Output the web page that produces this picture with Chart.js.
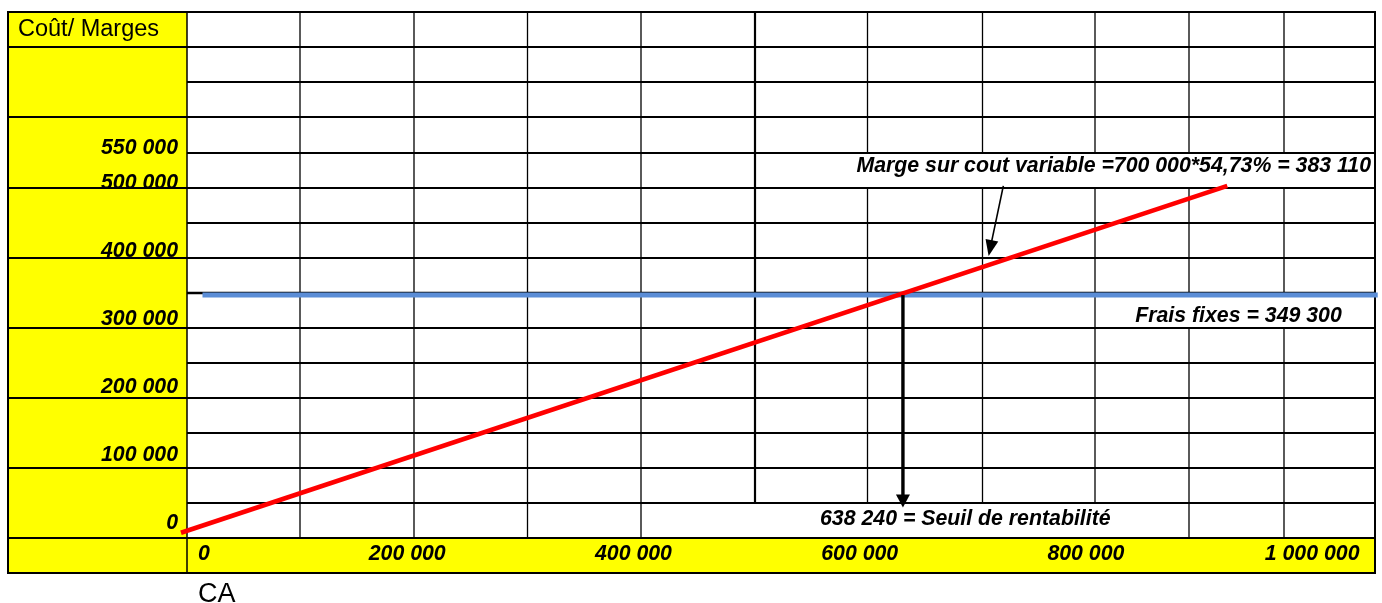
<!DOCTYPE html>
<html><head><meta charset="utf-8">
<script src="https://cdn.jsdelivr.net/npm/chart.js@4.4.1/dist/chart.umd.min.js"></script>
<style>html,body{margin:0;padding:0;background:#fff;overflow:hidden}canvas{display:block}</style>
</head><body>
<canvas id="c" width="1382" height="603" style="width:1382px;height:603px"></canvas>
<script>
// ---------- data ----------
const caValues        = [0, 925000];          // CA of the two ends of the red line
const mcvValues       = [0, 510000];          // Marge sur coût variable at those CA
const fixedCostCA     = [19000, 1058000];     // blue line ends
const fixedCostValues = [349300, 349300];     // Frais fixes
const breakEvenCA     = 638240;               // Seuil de rentabilité
const breakEvenArrowY = [349300, 37200];      // vertical arrow: from / to
const mcvArrowCA      = [727000, 714000];     // thin arrow: from / to (x)
const mcvArrowY       = [510000, 407000];     // thin arrow: from / to (y)
const xTickValues = [0, 200000, 400000, 600000, 800000, 1000000];
const xTickLabels = ['0', '200 000', '400 000', '600 000', '800 000', '1 000 000'];
const yTickValues = [0, 100000, 200000, 300000, 400000, 500000, 550000];
const yTickLabels = ['0', '100 000', '200 000', '300 000', '400 000', '500 000', '550 000'];
const yAxisTitle = 'Coût/ Marges';
const xAxisTitle = 'CA';
const mcvLabel = 'Marge sur cout variable =700 000*54,73% = 383 110';
const fixedLabel = 'Frais fixes = 349 300';
const breakEvenLabel = '638 240 = Seuil de rentabilité';

// ---------- sheet layout ----------
const FAMILY = "'Liberation Sans', Arial, sans-serif";
const COLS = [8, 187, 300, 414, 527.5, 641, 755, 867.5, 982.5, 1095, 1189, 1284, 1375];
const ROWS = [12, 47, 82, 117, 153, 188, 223, 258, 293, 328, 363, 398, 433, 468, 503, 538, 573];
const SKIP_V = {4: [867.5, 982.5, 1095, 1189, 1284], 8: [1189, 1284], 14: [755, 867.5, 982.5, 1095]};

function arrow(ctx, x1, y1, x2, y2, lw, hl, hw) {
  const a = Math.atan2(y2 - y1, x2 - x1);
  const bx = x2 - Math.cos(a) * hl, by = y2 - Math.sin(a) * hl;
  ctx.beginPath();
  ctx.lineWidth = lw;
  ctx.moveTo(x1, y1); ctx.lineTo(bx + Math.cos(a) * 1, by + Math.sin(a) * 1);
  ctx.stroke();
  ctx.beginPath();
  ctx.moveTo(x2, y2);
  ctx.lineTo(bx + Math.sin(a) * hw / 2, by - Math.cos(a) * hw / 2);
  ctx.lineTo(bx - Math.sin(a) * hw / 2, by + Math.cos(a) * hw / 2);
  ctx.closePath();
  ctx.fill();
}

const sheetPlugin = {
  id: 'sheet',
  beforeDraw(chart) {
    const ctx = chart.ctx;
    ctx.save();
    ctx.fillStyle = '#fff';
    ctx.fillRect(0, 0, chart.width, chart.height);
    ctx.fillStyle = '#FFFF00';
    ctx.fillRect(COLS[0], ROWS[0], COLS[1] - COLS[0], ROWS[15] - ROWS[0]);
    ctx.fillRect(COLS[0], ROWS[15], COLS[12] - COLS[0], ROWS[16] - ROWS[15]);
    ctx.strokeStyle = '#000';
    ctx.lineCap = 'butt';
    // horizontal lines
    ROWS.forEach((y, i) => {
      const yellowToo = (i === 0 || i % 2 === 1 || i === 16);
      ctx.beginPath();
      ctx.lineWidth = (i === 8) ? 2.6 : 2;
      ctx.moveTo(yellowToo ? COLS[0] - 1 : COLS[1], y);
      ctx.lineTo(COLS[12] + 1, y);
      ctx.stroke();
    });
    // inner vertical lines
    for (let j = 2; j <= 11; j++) {
      const x = COLS[j];
      ctx.lineWidth = (x === 755) ? 2.2 : 1.3;
      for (let r = 0; r < 15; r++) {
        if (SKIP_V[r] && SKIP_V[r].includes(x)) continue;
        ctx.beginPath();
        ctx.moveTo(x, ROWS[r]);
        ctx.lineTo(x, ROWS[r + 1]);
        ctx.stroke();
      }
    }
    // borders and yellow column edge
    [[COLS[0], 2], [COLS[1], 1.5], [COLS[12], 2]].forEach(([x, w]) => {
      ctx.beginPath();
      ctx.lineWidth = w;
      ctx.moveTo(x, ROWS[0] - 1);
      ctx.lineTo(x, ROWS[16] + 1);
      ctx.stroke();
    });
    ctx.restore();
  },
  afterDatasetsDraw(chart) {
    const ctx = chart.ctx, xs = chart.scales.x, ys = chart.scales.y;
    ctx.save();
    ctx.strokeStyle = '#000';
    ctx.fillStyle = '#000';
    const bx = xs.getPixelForValue(breakEvenCA);
    arrow(ctx, bx, ys.getPixelForValue(breakEvenArrowY[0]), bx, ys.getPixelForValue(breakEvenArrowY[1]), 3.4, 13, 14);
    arrow(ctx, xs.getPixelForValue(mcvArrowCA[0]), ys.getPixelForValue(mcvArrowY[0]),
               xs.getPixelForValue(mcvArrowCA[1]), ys.getPixelForValue(mcvArrowY[1]), 1.6, 16, 13);
    ctx.restore();
  },
  afterDraw(chart) {
    const ctx = chart.ctx, xs = chart.scales.x;
    ctx.save();
    ctx.fillStyle = '#000';
    ctx.textBaseline = 'alphabetic';
    // x tick labels in the yellow bottom row
    ctx.font = 'italic bold 21.3px ' + FAMILY;
    xTickValues.forEach((v, i) => {
      const px = xs.getPixelForValue(v);
      const w = ctx.measureText(xTickLabels[i]).width;
      if (px - w / 2 < COLS[1] + 4) { ctx.textAlign = 'left'; ctx.fillText(xTickLabels[i], COLS[1] + 11, 559.5); }
      else { ctx.textAlign = 'center'; ctx.fillText(xTickLabels[i], px, 559.5); }
    });
    // annotations
    ctx.textAlign = 'right';
    ctx.fillText(mcvLabel, 1371, 172);
    ctx.textAlign = 'center';
    ctx.fillText(fixedLabel, 1238.5, 322);
    ctx.textAlign = 'left';
    ctx.fillText(breakEvenLabel, 820, 524.5);
    // axis titles
    ctx.font = '23.5px ' + FAMILY;
    ctx.fillText(yAxisTitle, 18, 36);
    ctx.font = '27px ' + FAMILY;
    ctx.fillText(xAxisTitle, 198, 601.5);
    ctx.restore();
  }
};

new Chart(document.getElementById('c'), {
  type: 'line',
  data: {
    datasets: [
      {
        label: 'Marge sur coût variable',
        data: caValues.map((x, i) => ({x: x, y: mcvValues[i]})),
        borderColor: '#FF0000', borderWidth: 4.6, pointRadius: 0, tension: 0, fill: false,
        borderCapStyle: 'butt', clip: false
      },
      {
        label: 'Frais fixes',
        data: fixedCostCA.map((x, i) => ({x: x, y: fixedCostValues[i]})),
        borderColor: '#5B8DD6', borderWidth: 5, pointRadius: 0, tension: 0, fill: false,
        borderCapStyle: 'butt', clip: false
      }
    ]
  },
  options: {
    responsive: false,
    animation: false,
    devicePixelRatio: 1,
    layout: {padding: {left: 0, right: 2, top: 8.3, bottom: 70.3}},
    plugins: {legend: {display: false}, tooltip: {enabled: false}},
    scales: {
      x: {type: 'linear', min: 0, max: 1060000, display: false},
      y: {
        type: 'linear', min: 0, max: 760000,
        afterFit(s) { s.width = 181; },
        afterBuildTicks(s) { s.ticks = yTickValues.map(v => ({value: v})); },
        grid: {display: false, drawTicks: false},
        border: {display: false},
        ticks: {
          autoSkip: false, padding: 3, labelOffset: -10, color: '#000',
          font: {family: FAMILY, size: 21.3, style: 'italic', weight: 'bold'},
          callback: (v) => { const i = yTickValues.indexOf(v); return i < 0 ? '' : yTickLabels[i]; }
        }
      }
    }
  },
  plugins: [sheetPlugin]
});
</script>
</body></html>
